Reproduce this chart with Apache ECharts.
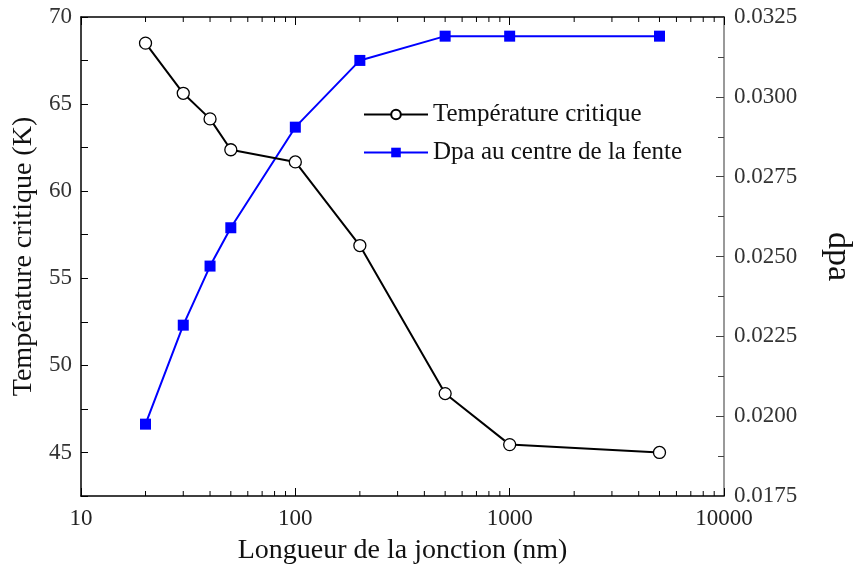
<!DOCTYPE html>
<html><head><meta charset="utf-8">
<script src="https://cdn.jsdelivr.net/npm/echarts@6/dist/echarts.min.js"></script>
<style>html,body{margin:0;padding:0;background:#fff}#c{width:853px;height:576px}</style>
</head><body><div id="c"></div>
<script>
const lengths = [20, 30, 40, 50, 100, 200, 500, 1000, 5000];
const tempCritique = [68.5, 65.62, 64.15, 62.38, 61.68, 56.88, 48.38, 45.45, 45.0];
const dpaCentre = [0.01975, 0.02285, 0.02470, 0.02590, 0.02905, 0.03114, 0.03190, 0.03190, 0.03190];
const xTickLabels = ['10', '100', '1000', '10000'];
const minorLogTicks = [20,30,40,50,60,70,80,90,200,300,400,500,600,700,800,900,2000,3000,4000,5000,6000,7000,8000,9000];

const FONT = 'Liberation Serif';
const chart = echarts.init(document.getElementById('c'), null, {renderer: 'canvas'});
const pair = (xs, ys) => xs.map((x, i) => [x, ys[i]]);

chart.setOption({
  animation: false,
  backgroundColor: '#fff',
  textStyle: {fontFamily: FONT},
  grid: {left: 81, right: 129, top: 17, bottom: 80, containLabel: false, outerBoundsMode: 'none'},
  legend: {
    left: 358, top: 97, orient: 'vertical', itemWidth: 64, itemHeight: 12, itemGap: 13,
    textStyle: {fontFamily: FONT, fontSize: 25, color: '#111'},
    data: ['Température critique', 'Dpa au centre de la fente']
  },
  xAxis: [{
    type: 'log', logBase: 10, min: 10, max: 10000, position: 'bottom',
    name: 'Longueur de la jonction (nm)', nameLocation: 'middle', nameGap: 41,
    nameTextStyle: {fontFamily: FONT, fontSize: 28, color: '#111'},
    axisLine: {lineStyle: {color: '#000', width: 1.5}},
    axisTick: {inside: true, length: 8, lineStyle: {color: '#000'}},
    axisLabel: {fontFamily: FONT, fontSize: 23, color: '#222', margin: 11,
      formatter: v => xTickLabels.includes(String(Math.round(v))) ? String(Math.round(v)) : ''},
    splitLine: {show: false}
  }, {
    type: 'log', logBase: 10, min: 10, max: 10000, position: 'top',
    axisLine: {lineStyle: {color: '#000', width: 1.5}},
    axisTick: {inside: true, length: 8, lineStyle: {color: '#000'}},
    axisLabel: {show: false}, splitLine: {show: false}
  }],
  yAxis: [{
    type: 'value', min: 42.5, max: 70, interval: 2.5, position: 'left',
    name: 'Température critique (K)', nameLocation: 'middle', nameGap: 40, nameRotate: 90,
    nameTextStyle: {fontFamily: FONT, fontSize: 28, color: '#111'},
    axisLine: {show: true, lineStyle: {color: '#000', width: 1.5}},
    axisTick: {inside: true, length: 7, lineStyle: {color: '#000'}},
    axisLabel: {fontFamily: FONT, fontSize: 23, color: '#333', margin: 9,
      formatter: v => (Math.abs(v % 5) < 1e-6 ? String(v) : '')},
    splitLine: {show: false}
  }, {
    type: 'value', min: 0.0175, max: 0.0325, interval: 0.0025, position: 'right',
    name: 'dpa', nameLocation: 'middle', nameGap: 97, nameRotate: -90,
    nameTextStyle: {fontFamily: FONT, fontSize: 34, color: '#111'},
    axisLine: {show: true, lineStyle: {color: '#777', width: 1.5}},
    axisTick: {inside: true, length: 8, lineStyle: {color: '#444'}},
    minorTick: {show: true, splitNumber: 2, length: 6, lineStyle: {color: '#444'}},
    axisLabel: {fontFamily: FONT, fontSize: 23, color: '#333', margin: 10,
      formatter: v => v.toFixed(4)},
    splitLine: {show: false}
  }],
  series: [{
    name: 'Température critique', type: 'line', xAxisIndex: 0, yAxisIndex: 0,
    data: pair(lengths, tempCritique),
    symbol: 'circle', symbolSize: 12,
    itemStyle: {color: '#fff', borderColor: '#000', borderWidth: 1.3},
    lineStyle: {color: '#000', width: 2},
    z: 3
  }, {
    name: 'Dpa au centre de la fente', type: 'line', xAxisIndex: 0, yAxisIndex: 1,
    data: pair(lengths, dpaCentre),
    symbol: 'rect', symbolSize: 11,
    itemStyle: {color: '#0000ff'},
    lineStyle: {color: '#0000ff', width: 2},
    z: 2
  }, {
    type: 'custom', xAxisIndex: 0, yAxisIndex: 0, silent: true,
    data: minorLogTicks.map(v => [v]),
    renderItem: (params, api) => {
      const x = api.coord([api.value(0), 42.5])[0];
      const yb = api.coord([10, 42.5])[1];
      const yt = api.coord([10, 70])[1];
      return {type: 'group', children: [
        {type: 'line', shape: {x1: x, y1: yb, x2: x, y2: yb - 5}, style: {stroke: '#000', lineWidth: 1}},
        {type: 'line', shape: {x1: x, y1: yt, x2: x, y2: yt + 5}, style: {stroke: '#000', lineWidth: 1}}
      ]};
    },
    encode: {x: 0}
  }]
});
</script></body></html>
